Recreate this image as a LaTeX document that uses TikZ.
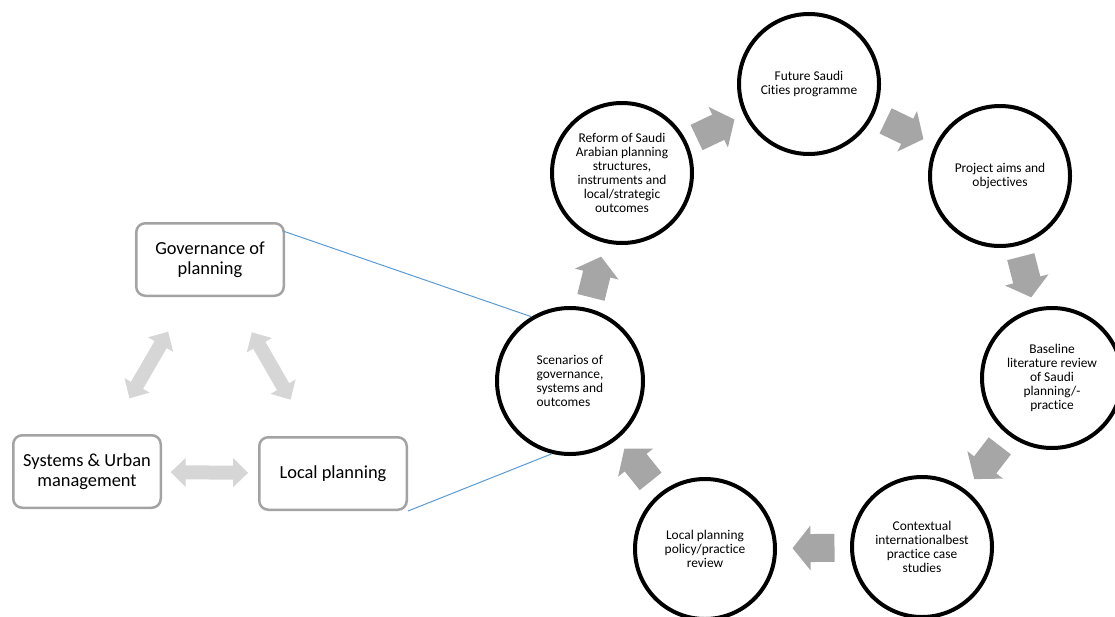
\documentclass[tikz,border=0pt]{standalone}
\usepackage{fontspec}
\setmainfont{Carlito}[Ligatures=NoCommon]
\usetikzlibrary{arrows.meta,calc}
\definecolor{cycgray}{HTML}{A6A6A6}
\definecolor{linkgray}{HTML}{D6D6D6}
\definecolor{boxgray}{HTML}{A3A3A3}
\definecolor{linkblue}{HTML}{5B9BD5}

\begin{document}
\begin{tikzpicture}[x=1pt,y=-1pt,
    stage/.style={draw,circle,line width=4pt,minimum size=140pt,inner sep=1pt,align=center,
      font=\fontsize{13.4}{14}\selectfont},
    topic/.style={draw=boxgray,rounded corners=9pt,line width=2.5pt,minimum width=147.5pt,
      minimum height=72.5pt,align=center,font=\fontsize{18.4}{20}\selectfont},
    cycarrow/.style={cycgray,line width=28pt,-{Triangle[length=18pt,width=44pt]}},
    linkarrow/.style={linkgray,line width=14pt,{Triangle[length=15pt,width=28pt]}-{Triangle[length=15pt,width=28pt]}},
    bluelink/.style={linkblue,line width=1pt}]
    \useasboundingbox (0,0) rectangle (1115,616);
    % the research cycle
    \node[stage] (fs) at (809,84) {Future Saudi\\Cities programme};
    \node[stage] (pa) at (1000,176) {Project aims and\\objectives};
    \node[stage] (bl) at (1052,378) {Baseline\\literature review\\of Saudi\\planning/-\\practice};
    \node[stage] (cx) at (922,547) {Contextual\\internationalbest\\practice case\\studies};
    \node[stage] (lp) at (705,549) {Local planning\\policy/practice\\review};
    \node[stage,align=left,minimum size=146pt] (sc) at (570,381) {Scenarios of\\governance,\\systems and\\outcomes};
    \node[stage] (rf) at (622,173) {Reform of Saudi\\Arabian planning\\structures,\\instruments and\\local/strategic\\outcomes};
    \foreach \src/\dst in {rf/fs,fs/pa,pa/bl,bl/cx,cx/lp,lp/sc,sc/rf}
      \draw[cycarrow] ($(\src)!0.5!(\dst)!21pt!(\src)$) -- ($(\src)!0.5!(\dst)!21pt!(\dst)$);
    % the three themes
    \node[topic] (gov) at (210,259.5) {Governance of\\planning};
    \node[topic] (sys) at (87,471.5) {Systems \& Urban\\management};
    \node[topic] (loc) at (333,473.5) {Local planning};
    \foreach \src/\dst in {gov/sys,gov/loc,sys/loc}
      \draw[linkarrow] ($(\src)!0.34!(\dst)$) -- ($(\src)!0.655!(\dst)$);
    \draw[bluelink] ([shift={(-2,9)}]gov.north east) -- (sc.121);
    \draw[bluelink] (loc.south east) -- (sc.256);
\end{tikzpicture}
\end{document}
